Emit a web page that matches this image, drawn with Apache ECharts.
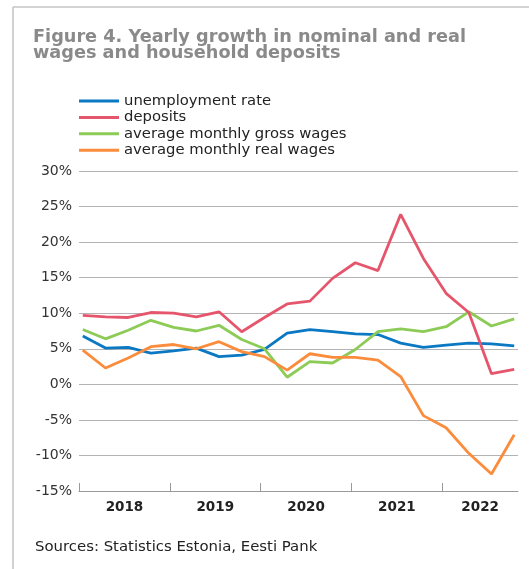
<!DOCTYPE html>
<html>
<head>
<meta charset="utf-8">
<script src="https://cdn.jsdelivr.net/npm/echarts@6/dist/echarts.min.js"></script>
<style>
  html, body { margin: 0; padding: 0; background: #ffffff; }
  #chart { width: 529px; height: 569px; }
</style>
</head>
<body>
<div id="chart"></div>
<script>
// Quarterly observations, 2018 Q1 – 2022 Q4
const quarters = [
  '2018Q1','2018Q2','2018Q3','2018Q4',
  '2019Q1','2019Q2','2019Q3','2019Q4',
  '2020Q1','2020Q2','2020Q3','2020Q4',
  '2021Q1','2021Q2','2021Q3','2021Q4',
  '2022Q1','2022Q2','2022Q3','2022Q4'
];

// Yearly growth, %
const unemploymentRate = [6.8, 5.1, 5.2, 4.4, 4.7, 5.1, 3.9, 4.1, 4.9, 7.2, 7.7, 7.4, 7.1, 7.0, 5.8, 5.2, 5.5, 5.8, 5.7, 5.4];
const deposits         = [9.7, 9.5, 9.4, 10.1, 10.0, 9.5, 10.2, 7.4, 9.4, 11.3, 11.7, 14.9, 17.1, 16.0, 23.9, 17.7, 12.8, 10.1, 1.5, 2.1];
const grossWages       = [7.7, 6.4, 7.6, 9.0, 8.0, 7.5, 8.3, 6.3, 5.0, 1.0, 3.2, 3.0, 4.9, 7.4, 7.8, 7.4, 8.1, 10.2, 8.2, 9.2];
const realWages        = [4.8, 2.3, 3.7, 5.3, 5.6, 5.0, 6.0, 4.6, 3.9, 2.0, 4.3, 3.8, 3.8, 3.4, 1.1, -4.4, -6.1, -9.7, -12.6, -7.1];

const years = ['2018', '2019', '2020', '2021', '2022'];
const yTicks = [-15, -10, -5, 0, 5, 10, 15, 20, 25, 30];

const seriesNames = [
  'unemployment rate',
  'deposits',
  'average monthly gross wages',
  'average monthly real wages'
];
const seriesColors = ['#0a78c2', '#e5566d', '#8dcb57', '#fb8c3c'];
const seriesValues = [unemploymentRate, deposits, grossWages, realWages];

// Months since January 2018; each quarter's value sits in the middle of its first month
function monthOf(q) {
  const y = parseInt(q.slice(0, 4), 10);
  const n = parseInt(q.slice(5), 10);
  return (y - 2018) * 12 + (n - 1) * 3 + 0.5;
}
const xMonths = quarters.map(monthOf);
// Axis runs from January 2018 to the end of October 2022
const xMin = 0;
const xMax = xMonths[xMonths.length - 1] + 0.5;
const yearStarts = years.map((y, i) => i * 12);
const yearMids = years.map((y, i) => Math.min((i + 0.5) * 12, (i * 12 + xMax) / 2));

const chart = echarts.init(document.getElementById('chart'), null, { renderer: 'canvas' });

const font = '"DejaVu Sans", Arial, Helvetica, sans-serif';

chart.setOption({
  animation: false,
  backgroundColor: '#ffffff',
  textStyle: { fontFamily: font },
  title: {
    text: 'Figure 4. Yearly growth in nominal and real\nwages and household deposits',
    left: 33,
    top: 29,
    padding: 0,
    textStyle: {
      fontFamily: font,
      fontSize: 17.7,
      fontWeight: 'bold',
      color: '#8a8a8a',
      lineHeight: 16
    }
  },
  legend: {
    orient: 'vertical',
    left: 79,
    top: 93,
    padding: 0,
    icon: 'rect',
    itemWidth: 40,
    itemHeight: 3,
    itemGap: 0.4,
    data: seriesNames,
    textStyle: { fontFamily: font, fontSize: 14.8, color: '#222222', lineHeight: 16 }
  },
  grid: { left: 79, right: 11, top: 171, bottom: 78, containLabel: false },
  xAxis: {
    type: 'value',
    min: xMin,
    max: xMax,
    interval: 12,
    axisLine: { show: true, onZero: false, lineStyle: { color: '#9a9a9a', width: 1 } },
    axisTick: {
      show: true,
      inside: true,
      length: 8,
      customValues: yearStarts,
      lineStyle: { color: '#9a9a9a', width: 1 }
    },
    axisLabel: {
      customValues: yearMids,
      formatter: v => years[Math.floor(v / 12)],
      fontFamily: font,
      fontSize: 13.5,
      fontWeight: 'bold',
      color: '#222222',
      margin: 9
    },
    splitLine: { show: false }
  },
  yAxis: {
    type: 'value',
    min: yTicks[0],
    max: yTicks[yTicks.length - 1],
    interval: 5,
    axisLine: { show: false },
    axisTick: { show: false },
    axisLabel: {
      formatter: v => v + '%',
      fontFamily: font,
      fontSize: 14,
      color: '#333333',
      margin: 7
    },
    splitLine: { show: true, lineStyle: { color: '#b4b4b4', width: 1 } }
  },
  series: seriesNames.map((name, k) => ({
    name: name,
    type: 'line',
    symbol: 'none',
    color: seriesColors[k],
    lineStyle: { color: seriesColors[k], width: 2.8 },
    data: xMonths.map((m, i) => [m, seriesValues[k][i]]),
    z: k === 1 ? 3 : 2
  })),
  graphic: [
    {
      type: 'line',
      shape: { x1: 13, y1: 7, x2: 529, y2: 7 },
      style: { stroke: '#c6c6c6', lineWidth: 1.6 }
    },
    {
      type: 'line',
      shape: { x1: 13, y1: 7, x2: 13, y2: 569 },
      style: { stroke: '#c6c6c6', lineWidth: 1.6 }
    },
    {
      type: 'text',
      left: 35,
      top: 540,
      style: {
        text: 'Sources: Statistics Estonia, Eesti Pank',
        fontFamily: font,
        fontSize: 14.9,
        fill: '#222222'
      }
    }
  ]
});
</script>
</body>
</html>
